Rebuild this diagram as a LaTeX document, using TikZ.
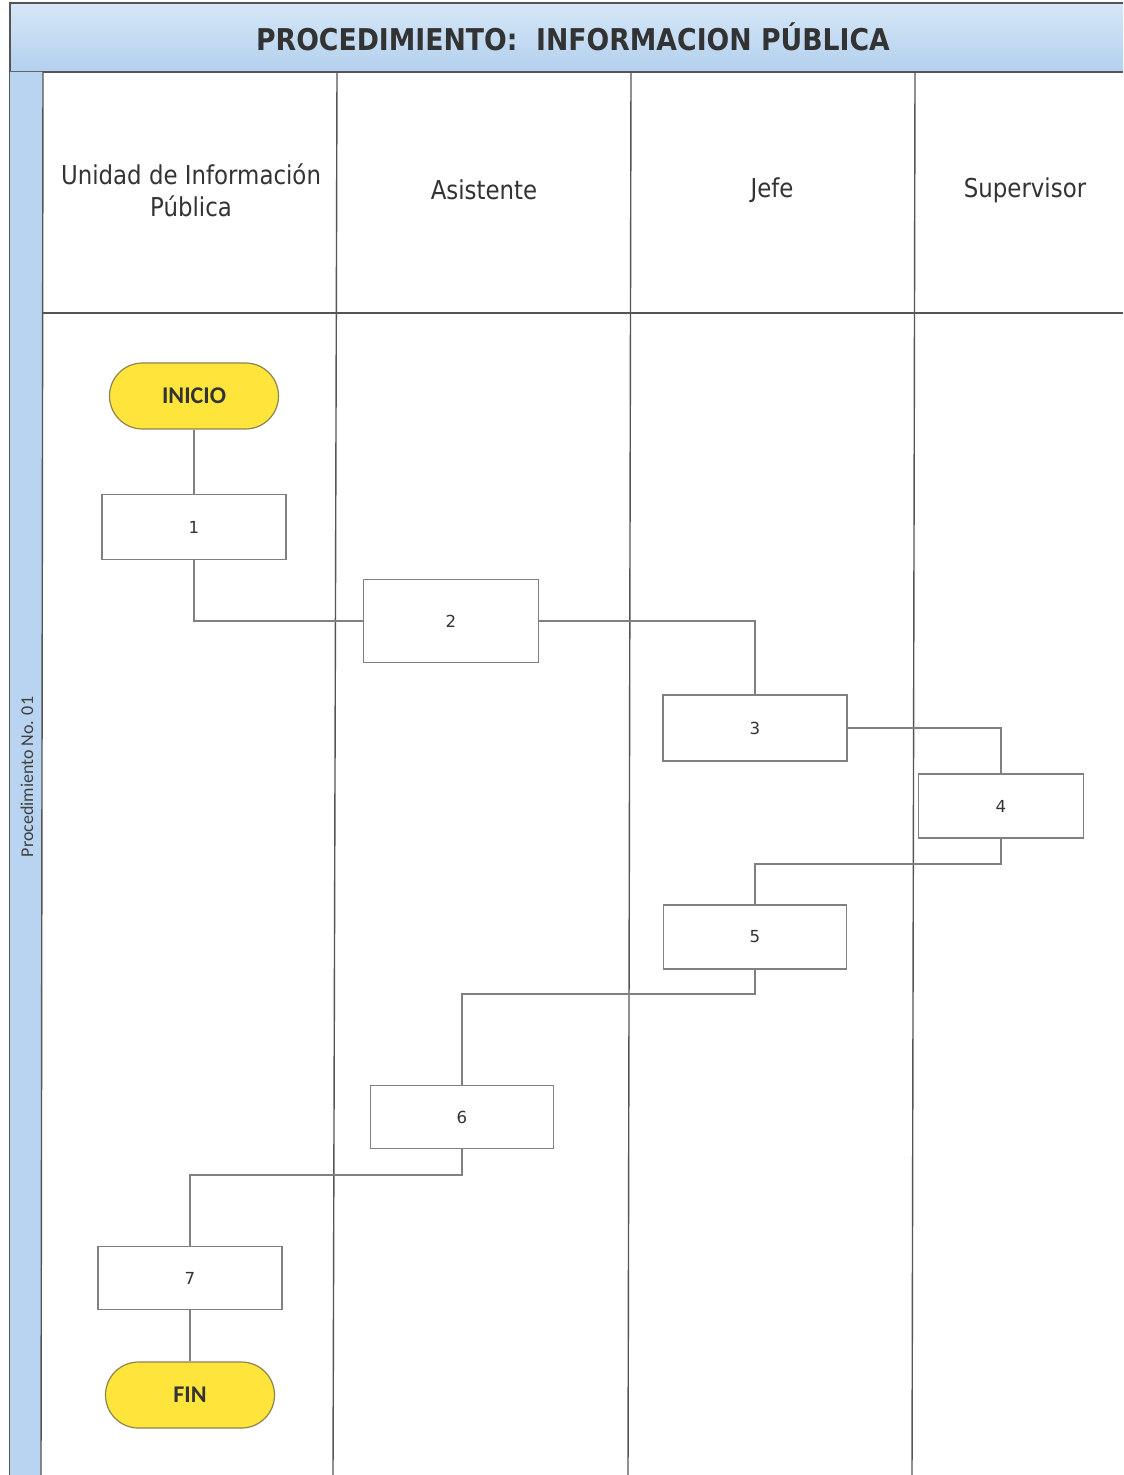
\documentclass[tikz,border=0pt]{standalone}
\usepackage{fontspec}
\setmainfont{DejaVu Sans}
\newfontfamily\titlefont[FakeStretch=0.89]{DejaVu Sans}
\newfontfamily\lanefont[FakeStretch=0.88]{DejaVu Sans}
\newfontfamily\calfont{Carlito}
\usetikzlibrary{positioning}
\definecolor{hdrtop}{HTML}{D6E7F7}
\definecolor{hdrbot}{HTML}{B3D0EE}
\definecolor{strip}{HTML}{B9D4F0}
\definecolor{frame}{HTML}{555555}
\definecolor{conn}{HTML}{808080}
\definecolor{termfill}{HTML}{FFE53B}
\definecolor{termdraw}{HTML}{8C8450}
\begin{document}
\begin{tikzpicture}[x=0.5pt,y=-0.5pt,
  framel/.style={draw=frame,line width=0.7pt},
  stepbox/.style={draw=conn,line width=0.6pt,fill=white,minimum width=92pt,minimum height=32.5pt,inner sep=0pt,font=\fontsize{8.3}{9}\selectfont,text=black!80},
  term/.style={draw=termdraw,line width=0.6pt,fill=termfill,minimum width=84.5pt,minimum height=33pt,rounded corners=16.5pt,inner sep=0pt,font=\calfont\bfseries\fontsize{12}{13}\selectfont,text=black!80},
  lanelabel/.style={font=\lanefont\fontsize{13}{16}\selectfont,text=black!80,align=center},
  link/.style={draw=conn,line width=0.6pt}]
\useasboundingbox (0,0) rectangle (1123,1475);
\fill[white] (0,0) rectangle (1123,1475);
% header band
\shade[top color=hdrtop,bottom color=hdrbot] (10,3) rectangle (1123,72);
\draw[framel] (1123,3) -- (10,3) -- (10,1475);
\draw[framel] (10,72) -- (1123,72);
\node[font=\titlefont\bfseries\fontsize{15}{18}\selectfont,text=black!80] (title) at (573,37) {PROCEDIMIENTO:\ \ INFORMACION PÚBLICA};
% left strip
\fill[strip] (10,72) -- (43,72) -- (41,1475) -- (10,1475) -- cycle;
\draw[framel] (43,72) -- (41,1475);
\node[rotate=90,font=\calfont\fontsize{9}{10}\selectfont,text=black!75] (proc) at (27,777) {Procedimiento No. 01};
% lanes
\draw[framel] (337,72) -- (333,1475);
\draw[framel] (631,72) -- (628,1475);
\draw[framel] (915,72) -- (912,1475);
\draw[framel] (43,313) -- (1123,313);
\node[lanelabel] (l1) at (191,190) {Unidad de Información\\Pública};
\node[lanelabel] (l2) at (484,190) {Asistente};
\node[lanelabel] (l3) at (772,190) {Jefe};
\node[lanelabel] (l4) at (1025,190) {Supervisor};
% nodes
\node[term] (inicio) at (194,396) {INICIO};
\node[stepbox] (n1) at (194,527) {1};
\node[stepbox,minimum width=87.5pt,minimum height=41.5pt] (n2) at (451,621) {2};
\node[stepbox,minimum height=33pt] (n3) at (755,728) {3};
\node[stepbox,minimum width=82.5pt,minimum height=32pt] (n4) at (1001,806) {4};
\node[stepbox,minimum width=91.5pt,minimum height=32pt] (n5) at (755,937) {5};
\node[stepbox,minimum width=91.5pt,minimum height=31.5pt] (n6) at (462,1117) {6};
\node[stepbox,minimum height=31.5pt] (n7) at (190,1278) {7};
\node[term] (fin) at (190,1395) {FIN};
% connectors
\coordinate (c5a) at (755,864);
\coordinate (c6a) at (462,994);
\coordinate (c7a) at (190,1175);
\draw[link] (inicio) -- (n1);
\draw[link] (n1.south) |- (n2.west);
\draw[link] (n2.east) -| (n3.north);
\draw[link] (n3.east) -| (n4.north);
\draw[link] (n4.south) |- (c5a) -- (n5.north);
\draw[link] (n5.south) |- (c6a) -- (n6.north);
\draw[link] (n6.south) |- (c7a) -- (n7.north);
\draw[link] (n7) -- (fin);
\end{tikzpicture}
\end{document}
